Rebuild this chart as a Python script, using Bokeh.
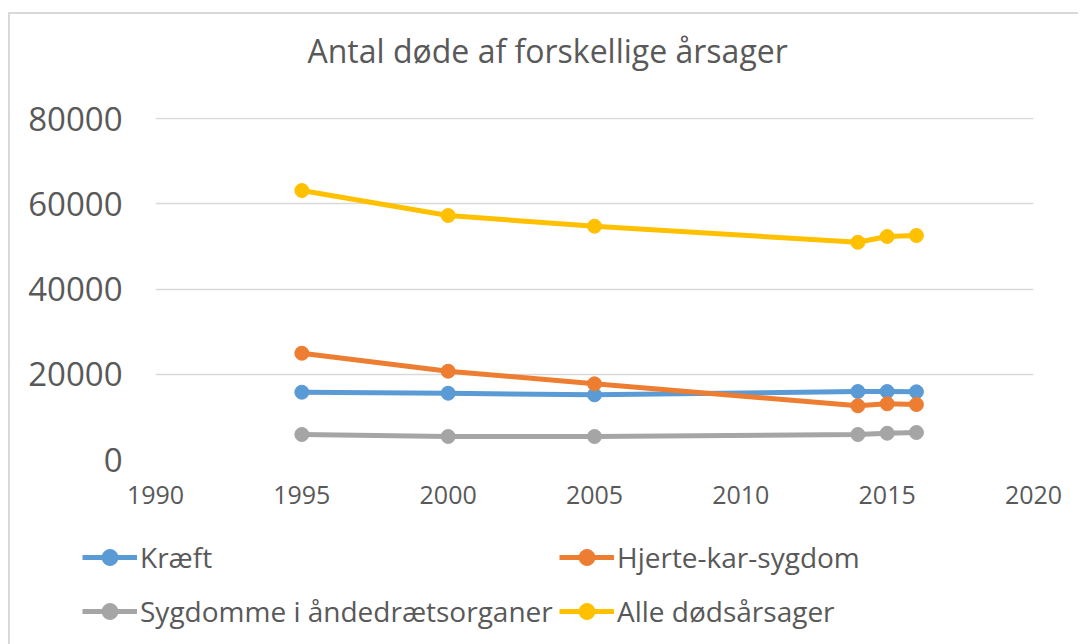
import numpy as np
from bokeh.plotting import figure
from bokeh.models import Legend, LegendItem, FixedTicker, Range1d
from bokeh.embed import file_html
from bokeh.resources import INLINE

years = [1995, 2000, 2005, 2014, 2015, 2016]
kraeft = [15800, 15560, 15180, 15960, 15960, 15890]
hjerte = [24950, 20730, 17770, 12600, 13070, 12910]
sygdomme = [5870, 5400, 5400, 5870, 6170, 6340]
alle = [63150, 57280, 54770, 51010, 52350, 52580]

names = ["Kræft", "Hjerte-kar-sygdom", "Sygdomme i åndedrætsorganer", "Alle dødsårsager"]
colors = ["#5B9BD5", "#ED7D31", "#A5A5A5", "#FFC000"]
x_ticks = [1990, 1995, 2000, 2005, 2010, 2015, 2020]
y_ticks = [0, 20000, 40000, 60000, 80000]
title_text = "Antal døde af forskellige årsager"

FONT = "Open Sans"
TXT = "#595959"
W = 1070
H_TITLE = 75
H_MAIN = 432
H_LEG = 123
BORDER = "#d9d9d9"


def blank_figure(h):
    f = figure(width=W, height=h, output_backend="svg", toolbar_location=None,
               x_range=Range1d(0, 1), y_range=Range1d(0, 1),
               x_axis_type=None, y_axis_type=None,
               min_border_left=0, min_border_right=0,
               min_border_top=0, min_border_bottom=0)
    f.outline_line_color = None
    f.xgrid.visible = False
    f.ygrid.visible = False
    f.background_fill_color = "white"
    f.border_fill_color = "white"
    return f


# title strip
pt = blank_figure(H_TITLE)
pt.title.text = title_text
pt.title.text_font = FONT
pt.title.text_font_size = "32px"
pt.title.text_font_style = "normal"
pt.title.text_color = TXT
pt.title.align = "left"
pt.title.offset = 297
pt.title.standoff = 24
pt.styles = {"position": "absolute", "top": "14px", "left": "10px",
             "box-shadow": f"-2px -2px 0 0 {BORDER}, -2px 0 0 0 {BORDER}"}

# main chart
p = figure(width=W, height=H_MAIN, output_backend="svg", toolbar_location=None,
           x_range=Range1d(1990, 2020), y_range=Range1d(0, 80300),
           min_border_left=145, min_border_right=47, min_border_top=28, min_border_bottom=62)
p.styles = {"position": "absolute", "top": f"{14 + H_TITLE}px", "left": "10px",
            "box-shadow": f"-2px 0 0 0 {BORDER}"}
p.outline_line_color = None
p.background_fill_color = "white"
p.border_fill_color = "white"

p.xgrid.grid_line_color = None
p.ygrid.grid_line_color = BORDER
p.ygrid.grid_line_width = 1.5
p.ygrid.ticker = FixedTicker(ticks=y_ticks)

p.xaxis.ticker = FixedTicker(ticks=x_ticks)
p.yaxis.ticker = FixedTicker(ticks=y_ticks)
for ax in (p.xaxis[0], p.yaxis[0]):
    ax.axis_line_color = None
    ax.major_tick_line_color = None
    ax.minor_tick_line_color = None
    ax.major_tick_out = 0
    ax.major_tick_in = 0
    ax.minor_tick_out = 0
    ax.minor_tick_in = 0
    ax.major_label_text_font = FONT
    ax.major_label_text_color = TXT
p.xaxis.major_label_text_font_size = "25px"
p.yaxis.major_label_text_font_size = "33px"
p.xaxis.major_label_standoff = 26
p.yaxis.major_label_standoff = 33

series = [kraeft, hjerte, sygdomme, alle]
for vals, col in zip(series, colors):
    p.line(years, vals, line_color=col, line_width=5)
    p.scatter(years, vals, size=14, fill_color=col, line_color=col)

# legend strip; its renderers hold no visible data (NaN), they only give the legend glyphs
pl = blank_figure(H_LEG)
pl.styles = {"position": "absolute", "top": f"{14 + H_TITLE + H_MAIN}px", "left": "10px",
             "box-shadow": f"-2px 0 0 0 {BORDER}"}

items = []
for name, col in zip(names, colors):
    ln = pl.line(x=np.array([np.nan]), y=np.array([np.nan]), line_color=col, line_width=5)
    sc = pl.scatter(x=np.array([np.nan]), y=np.array([np.nan]), size=11, fill_color=col, line_color=col)
    items.append(LegendItem(label=name, renderers=[ln, sc]))


def make_legend(its, loc):
    return Legend(items=its, location=loc, orientation="vertical",
                  glyph_width=55, glyph_height=40, label_height=40, spacing=14,
                  label_standoff=3, padding=0, margin=0,
                  border_line_color=None, background_fill_alpha=0,
                  label_text_font=FONT, label_text_font_size="28px", label_text_color=TXT)


pl.add_layout(make_legend([items[0], items[2]], (72, 13)), "center")
pl.add_layout(make_legend([items[1], items[3]], (549, 13)), "center")

open("out.html", "w").write(file_html([pt, p, pl], INLINE))
